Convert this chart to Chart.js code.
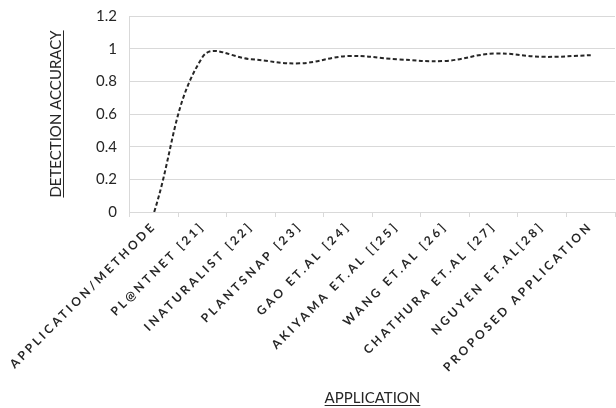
<!DOCTYPE html>
<html>
<head>
<meta charset="utf-8">
<script src="https://cdn.jsdelivr.net/npm/chart.js@4/dist/chart.umd.min.js"></script>
<style>
  body { margin: 0; background: #fff; }
  #wrap { width: 616px; height: 408px; }
</style>
</head>
<body>
<div id="wrap"><canvas id="myChart"></canvas></div>
<script>
const categories = ['APPLICATION/METHODE', 'PL@NTNET [21]', 'INATURALIST [22]', 'PLANTSNAP [23]',
    'GAO ET.AL [24]', 'AKIYAMA ET.AL [[25]', 'WANG ET.AL [26]', 'CHATHURA ET.AL [27]',
    'NGUYEN ET.AL[28]', 'PROPOSED APPLICATION'];
const accuracy = [0, 0.95, 0.935, 0.91, 0.955, 0.935, 0.925, 0.97, 0.95, 0.96];
const yTicks = [0, 0.2, 0.4, 0.6, 0.8, 1, 1.2];

const xTitle = 'APPLICATION';
const yTitle = 'DETECTION ACCURACY';
const gridColor = '#d9d9d9';
const textColor = '#262626';

// spaced-out letters on the category labels
const spacedLabels = {
    id: 'spacedLabels',
    afterLayout(chart) {
        const x = chart.scales.x;
        if (x._spaced) return;
        x._spaced = true;
        const orig = x.drawLabels;
        x.drawLabels = function (area) {
            const c = this.ctx;
            c.save();
            c.letterSpacing = '3px';
            orig.call(this, area);
            c.restore();
        };
    }
};

// underline the axis titles
const underline = {
    id: 'underline',
    afterDraw(chart) {
        const c = chart.ctx;
        c.save();
        c.strokeStyle = textColor;
        c.lineWidth = 1;

        const sx = chart.scales.x;
        const fx = Chart.helpers.toFont(sx.options.title.font);
        const px = Chart.helpers.toPadding(sx.options.title.padding);
        c.font = fx.string;
        let w = c.measureText(xTitle).width;
        let cx = (sx.left + sx.right) / 2;
        let cy = sx.bottom - px.bottom - fx.lineHeight / 2 + fx.size * 0.48;
        c.beginPath();
        c.moveTo(cx - w / 2, Math.round(cy) + 0.5);
        c.lineTo(cx + w / 2, Math.round(cy) + 0.5);
        c.stroke();

        const sy = chart.scales.y;
        const fy = Chart.helpers.toFont(sy.options.title.font);
        const py = Chart.helpers.toPadding(sy.options.title.padding);
        c.font = fy.string;
        w = c.measureText(yTitle).width;
        cy = (sy.top + sy.bottom) / 2;
        cx = sy.left + py.top + fy.lineHeight / 2 + fy.size * 0.48;
        c.beginPath();
        c.moveTo(Math.round(cx) + 0.5, cy - w / 2);
        c.lineTo(Math.round(cx) + 0.5, cy + w / 2);
        c.stroke();
        c.restore();
    }
};

let ctx = document.getElementById('myChart').getContext('2d');
let myChart = new Chart(ctx, {
    type: 'line',
    data: {
        labels: categories,
        datasets: [{
            data: accuracy,
            borderColor: textColor,
            borderWidth: 2,
            borderDash: [4, 2.5],
            tension: 0.4,
            pointRadius: 0,
            fill: false
        }]
    },
    plugins: [spacedLabels, underline],
    options: {
        responsive: true,
        maintainAspectRatio: false,
        animation: false,
        layout: { padding: { top: 16, left: 47, right: 1, bottom: 0 } },
        plugins: {
            legend: { display: false },
            tooltip: { enabled: false }
        },
        scales: {
            x: {
                offset: true,
                grid: {
                    offset: true,
                    drawOnChartArea: false,
                    drawTicks: true,
                    tickLength: 5,
                    color: gridColor
                },
                border: { color: gridColor },
                ticks: {
                    autoSkip: false,
                    maxRotation: 45,
                    minRotation: 45,
                    padding: 2,
                    color: textColor,
                    font: { family: 'Lato', size: 12, weight: 'bold' }
                },
                beforeCalculateLabelRotation: function (s) { s.ctx.letterSpacing = '3px'; },
                afterFit: function (s) { s.ctx.letterSpacing = '0px'; },
                title: {
                    display: true,
                    text: xTitle,
                    color: textColor,
                    font: { family: 'Lato', size: 15 },
                    padding: { top: 17, bottom: 1 }
                }
            },
            y: {
                min: 0,
                max: 1.2,
                afterBuildTicks: function (s) { s.ticks = yTicks.map(v => ({ value: v })); },
                afterFit: function (s) { s.paddingTop = 0; },
                grid: { color: gridColor, drawTicks: false },
                border: { display: true, color: gridColor },
                ticks: {
                    padding: 13,
                    color: textColor,
                    font: { family: 'Lato', size: 15 },
                    callback: function (v) { return String(Math.round(v * 10) / 10); }
                },
                title: {
                    display: true,
                    text: yTitle,
                    color: textColor,
                    font: { family: 'Lato', size: 15 },
                    padding: { top: 0, bottom: 18 }
                }
            }
        }
    }
});
</script>
</body>
</html>
